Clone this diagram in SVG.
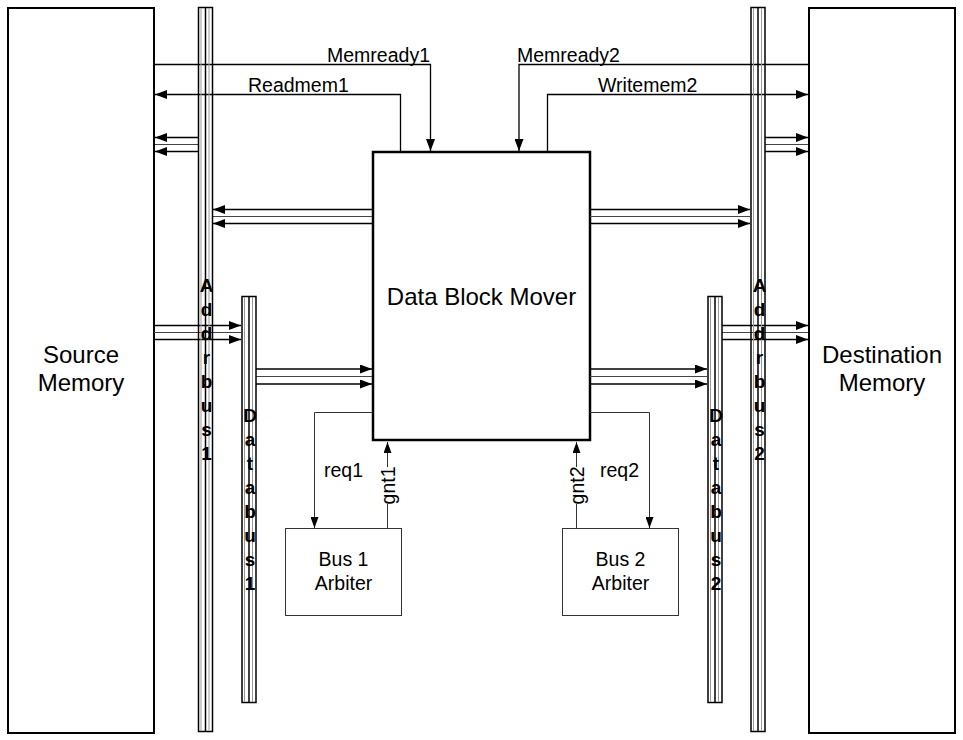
<svg xmlns="http://www.w3.org/2000/svg" width="963" height="740" viewBox="0 0 963 740">
<style>
text{font-family:"Liberation Sans",Arial,sans-serif;fill:#000}
.big{font-size:24px;text-anchor:middle}
.sig{font-size:19.5px}
.arb{font-size:19.5px;text-anchor:middle}
.bl{font-size:19px;font-weight:bold;text-anchor:middle}
.mem{fill:#fff;stroke:#000;stroke-width:2}
.mover{fill:none;stroke:#000;stroke-width:2.5}
.arbbox{fill:none;stroke:#333;stroke-width:1}
.busr{fill:none;stroke:#000;stroke-width:1.5}
.busc{stroke:#000;stroke-width:1.5}
.busg{stroke:#999;stroke-width:1}
.w{fill:none;stroke:#000;stroke-width:1.3}
.wm{fill:none;stroke:#444;stroke-width:1}
.t{fill:none;stroke:#333;stroke-width:1}
</style>
<defs>
<marker id="ah" viewBox="0 0 12 9" refX="12" refY="4.5" markerWidth="12" markerHeight="9" orient="auto" markerUnits="userSpaceOnUse"><path d="M0,0 L12,4.5 L0,9 z" fill="#000"/></marker>
<marker id="as" viewBox="0 0 11 8" refX="11" refY="4" markerWidth="11" markerHeight="8" orient="auto" markerUnits="userSpaceOnUse"><path d="M0,0 L11,4 L0,8 z" fill="#000"/></marker>
</defs>
<rect width="963" height="740" fill="#fff"/>

<g id="source-memory">
<rect class="mem" x="8" y="8" width="146" height="725"/>
<text class="big" x="81" y="363">Source</text>
<text class="big" x="81" y="391">Memory</text>
</g>
<g id="destination-memory">
<rect class="mem" x="809" y="8" width="146" height="725"/>
<text class="big" x="882" y="363">Destination</text>
<text class="big" x="882" y="391">Memory</text>
</g>
<g id="data-block-mover">
<rect class="mover" x="373" y="152" width="217" height="288"/>
<text class="big" x="481.5" y="305">Data Block Mover</text>
</g>
<g id="bus1-arbiter">
<rect class="arbbox" x="285.5" y="528.5" width="116" height="87"/>
<text class="arb" x="343.5" y="566">Bus 1</text>
<text class="arb" x="343.5" y="590">Arbiter</text>
</g>
<g id="bus2-arbiter">
<rect class="arbbox" x="562.5" y="528.5" width="116" height="87"/>
<text class="arb" x="620.5" y="566">Bus 2</text>
<text class="arb" x="620.5" y="590">Arbiter</text>
</g>

<g id="connectors">
<path class="w" d="M154,64.5 H430.5 V151" marker-end="url(#ah)"/>
<path class="w" d="M400.5,151 V94.5 H155" marker-end="url(#ah)"/>
<path class="w" d="M808,64.5 H519 V151" marker-end="url(#ah)"/>
<path class="w" d="M547.5,151 V94.5 H808" marker-end="url(#ah)"/>
<text class="sig" x="430" y="62" text-anchor="end">Memready1</text>
<text class="sig" x="248" y="92">Readmem1</text>
<text class="sig" x="517" y="62">Memready2</text>
<text class="sig" x="598" y="92">Writemem2</text>

<path class="w" d="M198,137.5 H155" marker-end="url(#ah)"/>
<path class="wm" d="M198,144.5 H155"/>
<path class="w" d="M198,151.5 H155" marker-end="url(#ah)"/>

<path class="w" d="M372,209.5 H213" marker-end="url(#ah)"/>
<path class="wm" d="M372,216.5 H213"/>
<path class="w" d="M372,223.5 H213" marker-end="url(#ah)"/>

<path class="w" d="M590,209.5 H750" marker-end="url(#ah)"/>
<path class="wm" d="M590,216.5 H750"/>
<path class="w" d="M590,223.5 H750" marker-end="url(#ah)"/>

<path class="w" d="M765,137.5 H808" marker-end="url(#ah)"/>
<path class="wm" d="M765,144.5 H808"/>
<path class="w" d="M765,151.5 H808" marker-end="url(#ah)"/>

<path class="w" d="M154,325.5 H241" marker-end="url(#ah)"/>
<path class="wm" d="M154,332.5 H241"/>
<path class="w" d="M154,339.5 H241" marker-end="url(#ah)"/>

<path class="w" d="M256,369 H372" marker-end="url(#ah)"/>
<path class="wm" d="M256,376.5 H372"/>
<path class="w" d="M256,384 H372" marker-end="url(#ah)"/>

<path class="w" d="M590,369 H707" marker-end="url(#ah)"/>
<path class="wm" d="M590,376.5 H707"/>
<path class="w" d="M590,384 H707" marker-end="url(#ah)"/>

<path class="w" d="M722,325.5 H808" marker-end="url(#ah)"/>
<path class="wm" d="M722,332.5 H808"/>
<path class="w" d="M722,339.5 H808" marker-end="url(#ah)"/>

<path class="t" d="M372,412.5 H314.5 V528" marker-end="url(#as)"/>
<path class="t" d="M387.5,528 V504"/>
<path class="t" d="M387.5,467 V442" marker-end="url(#as)"/>
<text class="sig" x="324" y="477">req1</text>
<text class="sig" transform="translate(387.5,485.5) rotate(-90)" text-anchor="middle" dominant-baseline="central">gnt1</text>

<path class="t" d="M590,412.5 H649.5 V528" marker-end="url(#as)"/>
<path class="t" d="M576.5,528 V504"/>
<path class="t" d="M576.5,467 V442" marker-end="url(#as)"/>
<text class="sig" x="600" y="477">req2</text>
<text class="sig" transform="translate(576.5,485.5) rotate(-90)" text-anchor="middle" dominant-baseline="central">gnt2</text>
</g>

<g id="addrbus1">
<rect class="busr" x="198.5" y="7.5" width="14" height="724"/>
<line class="busg" x1="201" y1="8" x2="201" y2="731"/>
<line class="busg" x1="209" y1="8" x2="209" y2="731"/>
<line class="busc" x1="205.5" y1="8" x2="205.5" y2="731"/>
<text class="bl" x="206.5" y="292"><tspan x="206.5">A</tspan><tspan x="206.5" dy="24">d</tspan><tspan x="206.5" dy="24">d</tspan><tspan x="206.5" dy="24">r</tspan><tspan x="206.5" dy="24">b</tspan><tspan x="206.5" dy="24">u</tspan><tspan x="206.5" dy="24">s</tspan><tspan x="206.5" dy="24">1</tspan></text>
</g>
<g id="addrbus2">
<rect class="busr" x="751" y="7.5" width="14" height="724"/>
<line class="busg" x1="753.5" y1="8" x2="753.5" y2="731"/>
<line class="busg" x1="761.5" y1="8" x2="761.5" y2="731"/>
<line class="busc" x1="758" y1="8" x2="758" y2="731"/>
<text class="bl" x="759.5" y="292"><tspan x="759.5">A</tspan><tspan x="759.5" dy="24">d</tspan><tspan x="759.5" dy="24">d</tspan><tspan x="759.5" dy="24">r</tspan><tspan x="759.5" dy="24">b</tspan><tspan x="759.5" dy="24">u</tspan><tspan x="759.5" dy="24">s</tspan><tspan x="759.5" dy="24">2</tspan></text>
</g>
<g id="databus1">
<rect class="busr" x="242" y="296.5" width="14" height="406"/>
<line class="busg" x1="244.5" y1="297" x2="244.5" y2="702"/>
<line class="busg" x1="252.5" y1="297" x2="252.5" y2="702"/>
<line class="busc" x1="249" y1="297" x2="249" y2="702"/>
<text class="bl" x="250" y="422"><tspan x="250">D</tspan><tspan x="250" dy="24">a</tspan><tspan x="250" dy="24">t</tspan><tspan x="250" dy="24">a</tspan><tspan x="250" dy="24">b</tspan><tspan x="250" dy="24">u</tspan><tspan x="250" dy="24">s</tspan><tspan x="250" dy="24">1</tspan></text>
</g>
<g id="databus2">
<rect class="busr" x="708" y="296.5" width="14" height="406"/>
<line class="busg" x1="710.5" y1="297" x2="710.5" y2="702"/>
<line class="busg" x1="718.5" y1="297" x2="718.5" y2="702"/>
<line class="busc" x1="715" y1="297" x2="715" y2="702"/>
<text class="bl" x="716" y="422"><tspan x="716">D</tspan><tspan x="716" dy="24">a</tspan><tspan x="716" dy="24">t</tspan><tspan x="716" dy="24">a</tspan><tspan x="716" dy="24">b</tspan><tspan x="716" dy="24">u</tspan><tspan x="716" dy="24">s</tspan><tspan x="716" dy="24">2</tspan></text>
</g>
</svg>
